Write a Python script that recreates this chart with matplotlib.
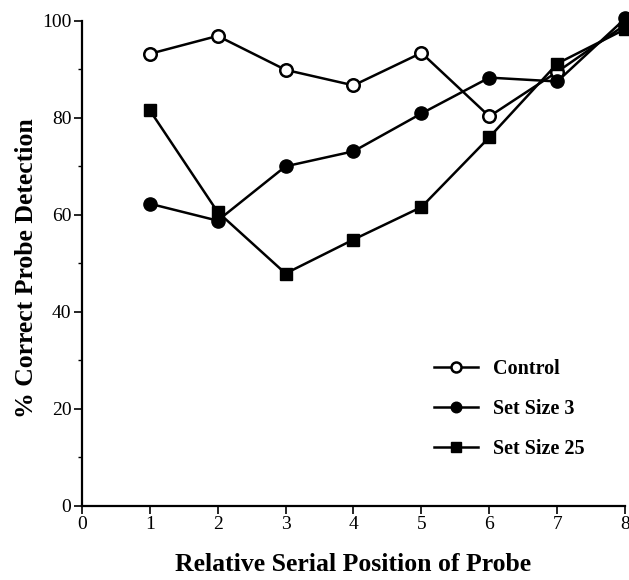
import matplotlib
matplotlib.use("Agg")
import matplotlib.pyplot as plt
from matplotlib.ticker import MultipleLocator

positions = [1, 2, 3, 4, 5, 6, 7, 8]
control = [93.2, 96.9, 89.9, 86.7, 93.4, 80.3, 89.5, 99.2]
set_size_3 = [62.3, 58.8, 70.0, 73.1, 80.9, 88.3, 87.5, 100.5]
set_size_25 = [81.6, 60.6, 47.9, 54.9, 61.6, 76.0, 91.2, 98.3]
series_labels = ["Control", "Set Size 3", "Set Size 25"]
xticks = [0, 1, 2, 3, 4, 5, 6, 7, 8]
yticks = [0, 20, 40, 60, 80, 100]

plt.rcParams['font.family'] = ['Liberation Serif', 'DejaVu Serif']

fig = plt.figure(figsize=(6.29, 5.8), dpi=100)
ax = fig.add_axes([0.130, 0.128, 0.864, 0.836])

lw = 1.8
ms = 9.5
ax.plot(positions, control, color='black', lw=lw, marker='o', ms=ms - 0.5,
        mfc='white', mec='black', mew=1.8, label=series_labels[0], clip_on=False, zorder=3)
ax.plot(positions, set_size_3, color='black', lw=lw, marker='o', ms=ms,
        mfc='black', mec='black', label=series_labels[1], clip_on=False, zorder=3)
ax.plot(positions, set_size_25, color='black', lw=lw, marker='s', ms=ms - 0.5,
        mfc='black', mec='black', label=series_labels[2], clip_on=False, zorder=3)

ax.set_xlim(0, 8)
ax.set_ylim(0, 100)
ax.set_xticks(xticks)
ax.set_yticks(yticks)
ax.yaxis.set_minor_locator(MultipleLocator(10))
for s in ['top', 'right']:
    ax.spines[s].set_visible(False)
for s in ['left', 'bottom']:
    ax.spines[s].set_linewidth(1.6)
ax.tick_params(axis='both', which='major', direction='out', length=6, width=1.2,
               labelsize=14, pad=1.5)
ax.tick_params(axis='y', which='minor', direction='out', length=3, width=1.0)

ax.set_xlabel("Relative Serial Position of Probe", fontsize=18.5, fontweight='bold')
ax.set_ylabel("% Correct Probe Detection", fontsize=18.5, fontweight='bold')
ax.xaxis.set_label_coords(0.5, -0.097)
ax.yaxis.set_label_coords(-0.08, 0.49)

leg = ax.legend(loc='upper left', bbox_to_anchor=(0.615, 0.34), frameon=False,
                handlelength=2.2, handletextpad=0.7, labelspacing=1.0,
                markerscale=0.8,
                prop={'weight': 'bold', 'size': 14.5})

fig.savefig("out.png", dpi=100)
